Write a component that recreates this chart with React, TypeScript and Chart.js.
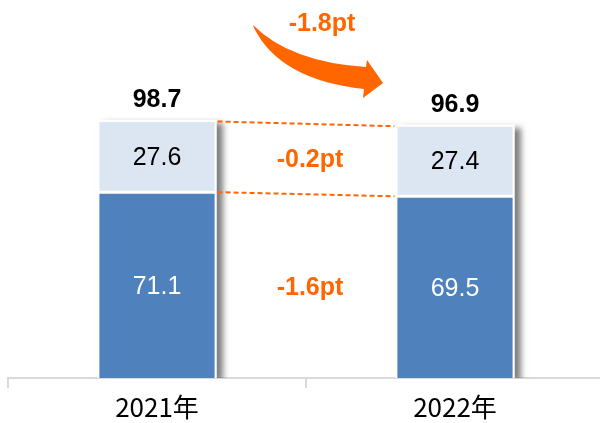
import React, { useEffect, useRef } from "react";
import { Chart, registerables } from "chart.js";

Chart.register(...registerables);

const categories = ["2021年", "2022年"];
const baseValues = [71.1, 69.5];
const topValues = [27.6, 27.4];
const totals = [98.7, 96.9];
const topChange = "-0.2pt";
const baseChange = "-1.6pt";
const totalChange = "-1.8pt";

const DARK = "#4F81BD";
const LIGHT = "#DCE6F2";
const ORANGE = "#FF6600";
const AXIS = "#D9D9D9";
const NUM_FONT = "Liberation Sans, Arial, sans-serif";

function drawText(ctx: CanvasRenderingContext2D, text: string, x: number, cy: number, size: number, bold: boolean, color: string) {
  ctx.font = `${bold ? "bold " : ""}${size}px ${NUM_FONT}`;
  ctx.fillStyle = color;
  ctx.textAlign = "center";
  ctx.textBaseline = "alphabetic";
  ctx.fillText(text, x, cy + size * 0.358);
}

const overlayPlugin = {
  id: "overlay",
  beforeDatasetsDraw(chart: any) {
    const ctx: CanvasRenderingContext2D = chart.ctx;
    const ca = chart.chartArea;
    const m0 = chart.getDatasetMeta(0);
    const m1 = chart.getDatasetMeta(1);
    ctx.save();
    ctx.beginPath();
    ctx.rect(ca.left, ca.top, ca.right - ca.left, ca.bottom - ca.top);
    ctx.clip();
    m1.data.forEach((el: any, i: number) => {
      const p = el.getProps(["x", "y", "width"], true);
      const bottom = m0.data[i].getProps(["base"], true).base;
      ctx.shadowColor = "rgba(0,0,0,0.5)";
      ctx.shadowBlur = 6;
      ctx.shadowOffsetX = 6;
      ctx.shadowOffsetY = 3;
      ctx.fillStyle = "#ffffff";
      ctx.fillRect(p.x - p.width / 2, p.y, p.width, bottom - p.y);
    });
    ctx.restore();
  },
  afterDatasetsDraw(chart: any) {
    const ctx: CanvasRenderingContext2D = chart.ctx;
    const m0 = chart.getDatasetMeta(0);
    const m1 = chart.getDatasetMeta(1);
    const yScale = chart.scales.y;
    const size = 25;

    const segs = m0.data.map((el: any, i: number) => {
      const d = el.getProps(["x", "y", "base", "width"], true);
      const t = m1.data[i].getProps(["x", "y", "base", "width"], true);
      return { x: d.x, w: d.width, base: d.base, mid: d.y, top: t.y };
    });

    // dashed connectors
    ctx.save();
    ctx.strokeStyle = ORANGE;
    ctx.lineWidth = 2;
    ctx.setLineDash([5, 3]);
    const a = segs[0];
    const b = segs[1];
    const yTopA = yScale.getPixelForValue(totals[0]);
    const yTopB = yScale.getPixelForValue(totals[1]);
    const yMidA = yScale.getPixelForValue(baseValues[0]);
    const yMidB = yScale.getPixelForValue(baseValues[1]);
    ctx.beginPath();
    ctx.moveTo(a.x + a.w / 2 + 1, yTopA + 1.5);
    ctx.lineTo(b.x - b.w / 2 - 1, yTopB + 1.5);
    ctx.moveTo(a.x + a.w / 2 + 1, yMidA);
    ctx.lineTo(b.x - b.w / 2 - 1, yMidB);
    ctx.stroke();
    ctx.restore();

    // segment labels and totals
    segs.forEach((s: any, i: number) => {
      drawText(ctx, baseValues[i].toFixed(1), s.x, (s.base + s.mid) / 2, size, false, "#ffffff");
      drawText(ctx, topValues[i].toFixed(1), s.x, (s.mid + s.top) / 2, size, false, "#000000");
      drawText(ctx, totals[i].toFixed(1), s.x, s.top - 22, size, true, "#000000");
    });

    // change labels
    const cx = (a.x + b.x) / 2 + 4;
    const topCy = ((a.mid + a.top) / 2 + (b.mid + b.top) / 2) / 2;
    const baseCy = ((a.base + a.mid) / 2 + (b.base + b.mid) / 2) / 2;
    drawText(ctx, topChange, cx, topCy, size, true, ORANGE);
    drawText(ctx, baseChange, cx, baseCy, size, true, ORANGE);

    // total change label + arrow
    const top = chart.chartArea.top;
    drawText(ctx, totalChange, cx + 12, top + 22, size, true, ORANGE);

    const ox = (a.x + b.x) / 2; // 306
    ctx.save();
    ctx.fillStyle = ORANGE;
    ctx.beginPath();
    // tail
    ctx.moveTo(ox - 53, top + 25);
    // upper body edge
    ctx.quadraticCurveTo(ox - 16, top + 62, ox + 60, top + 67);
    // head upper corner
    ctx.lineTo(ox + 61, top + 60);
    // tip
    ctx.lineTo(ox + 77, top + 83);
    // head lower corner
    ctx.lineTo(ox + 57, top + 98);
    ctx.lineTo(ox + 58, top + 89);
    // lower body edge back to tail
    ctx.quadraticCurveTo(ox - 26, top + 80, ox - 52, top + 28);
    ctx.closePath();
    ctx.fill();
    ctx.restore();
  },
};

export default function App() {
  const canvasRef = useRef<HTMLCanvasElement | null>(null);

  useEffect(() => {
    if (!canvasRef.current) return;
    const chart = new Chart(canvasRef.current, {
      type: "bar",
      data: {
        labels: categories,
        datasets: [
          {
            data: baseValues,
            backgroundColor: DARK,
            borderColor: "#ffffff",
            borderWidth: { top: 1.5, left: 2, right: 2, bottom: 0 },
            borderSkipped: false,
            barPercentage: 0.4,
            categoryPercentage: 1,
          },
          {
            data: topValues,
            backgroundColor: LIGHT,
            borderColor: "#ffffff",
            borderWidth: { top: 2, left: 2, right: 2, bottom: 1.5 },
            borderSkipped: false,
            barPercentage: 0.4,
            categoryPercentage: 1,
          },
        ],
      },
      options: {
        responsive: false,
        animation: false,
        layout: { padding: { left: 8, right: 8, top: 0, bottom: 0 } },
        plugins: {
          legend: { display: false },
          tooltip: { enabled: false },
          title: { display: false },
        },
        scales: {
          x: {
            stacked: true,
            offset: true,
            z: 1,
            grid: {
              display: true,
              drawOnChartArea: false,
              drawTicks: true,
              tickLength: 10,
              color: AXIS,
              lineWidth: 2,
              offset: true,
            },
            border: { display: true, color: AXIS, width: 2 },
            ticks: {
              color: "#000000",
              font: { family: "Noto Sans CJK SC", size: 26 },
              padding: 4,
            },
            afterFit: (s: any) => {
              s.height = 45;
            },
          },
          y: {
            stacked: true,
            display: false,
            min: 0,
            max: 144.6,
          },
        },
      },
      plugins: [overlayPlugin],
    });
    return () => chart.destroy();
  }, []);

  return (
    <div
      style={{
        position: "fixed",
        left: 0,
        top: 0,
        width: 600,
        height: 423,
        overflow: "hidden",
        background: "#ffffff",
      }}
    >
      <canvas ref={canvasRef} width={612} height={423} style={{ display: "block" }} />
    </div>
  );
}
